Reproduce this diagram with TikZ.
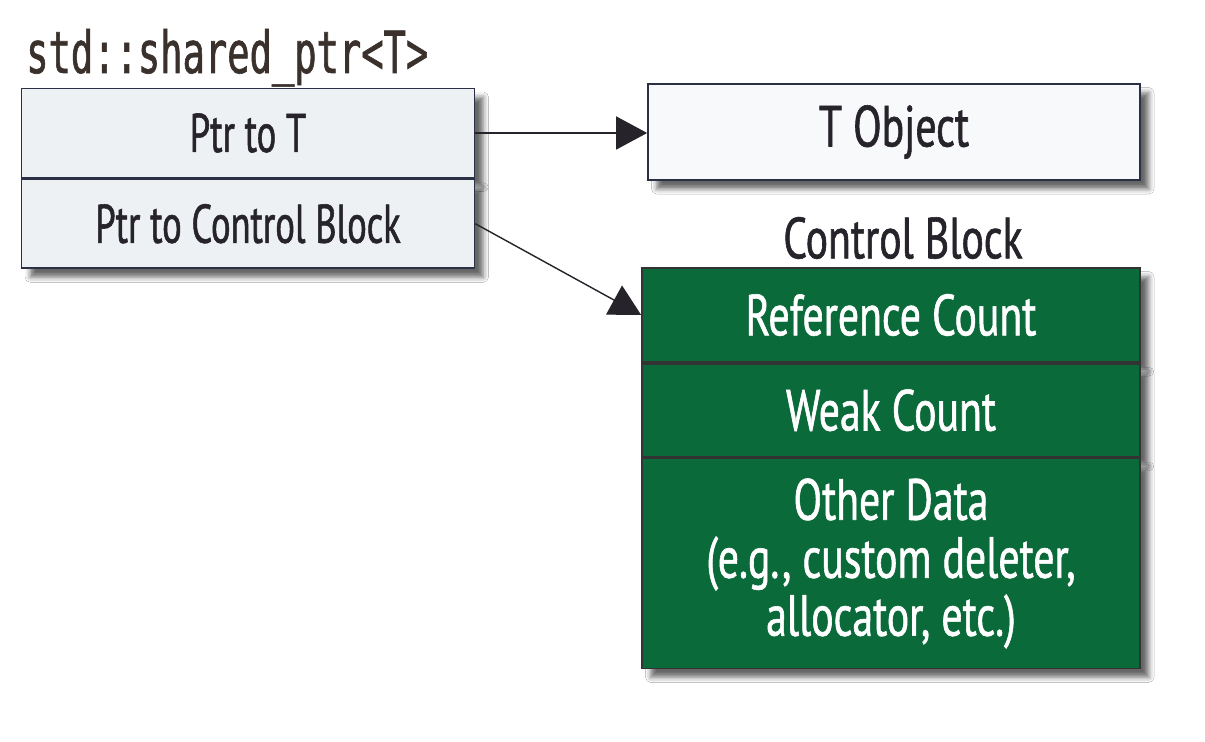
\documentclass[tikz,border=0pt]{standalone}
\usepackage{fontspec}
\usetikzlibrary{arrows.meta,shadows.blur,positioning}
\newfontfamily\lblfont{PT Sans}[FakeStretch=0.67,FakeBold=1]
\newfontfamily\ctlfont{PT Sans}[FakeStretch=0.72,FakeBold=1]
\newfontfamily\codefont{DejaVu Sans Mono}[FakeStretch=0.64,FakeBold=1]
\definecolor{cellgrey}{HTML}{EDF1F4}
\definecolor{objwhite}{HTML}{F8F9FA}
\definecolor{ctlgreen}{HTML}{0B6A3A}
\definecolor{boxedge}{HTML}{2B3045}
\definecolor{inkdark}{HTML}{26242A}
\definecolor{titleink}{HTML}{3A302C}

\begin{document}
\begin{tikzpicture}[x=0.02cm, y=-0.02cm,
  cell/.style={draw=boxedge, line width=1pt, fill=cellgrey, inner sep=0pt,
    minimum width=9.06cm, minimum height=1.78cm, text=inkdark,
    font={\lblfont\fontsize{31}{30.5}\selectfont},
    blur shadow={shadow xshift=5pt, shadow yshift=-5pt, shadow blur radius=3pt, shadow opacity=60}},
  rightfont/.style={font={\ctlfont\fontsize{33}{33}\selectfont}},
  greencell/.style={cell, rightfont, fill=ctlgreen, draw=black!80, text=white, minimum width=9.96cm, align=center},
  ptrarrow/.style={-{Triangle[length=0.62cm,width=0.66cm]}, line width=0.8pt, draw=inkdark, fill=inkdark}]
\useasboundingbox[fill=white] (0,0) rectangle (1205,742);

% shared_ptr
\node[anchor=base west, text=titleink, font={\codefont\fontsize{33}{30}\selectfont}] (title) at (20,73) {std::shared\_ptr<T>};
\node[cell] (ptrT) at (248,133) {Ptr to T};
\node[cell, below=0pt of ptrT] (ptrCB) {Ptr to Control Block};

% T object
\node[cell, rightfont, fill=objwhite, minimum width=9.84cm, minimum height=1.92cm] (tobj) at (894,132) {T Object};

% control block
\node[rightfont, text=inkdark] (cblabel) at (903,238) {Control Block};
\node[greencell, minimum height=1.88cm] (refcnt) at (891,315) {Reference Count};
\node[greencell, minimum height=1.86cm, below=0pt of refcnt] (weakcnt) {Weak Count};
\node[greencell, minimum height=4.2cm, below=0pt of weakcnt] (other) {Other Data\\(e.g., custom deleter,\\allocator, etc.)};

\draw[ptrarrow] (ptrT.east) -- (ptrT.east -| tobj.west);
\draw[ptrarrow] (ptrCB.east) -- (refcnt.west);
\end{tikzpicture}
\end{document}
